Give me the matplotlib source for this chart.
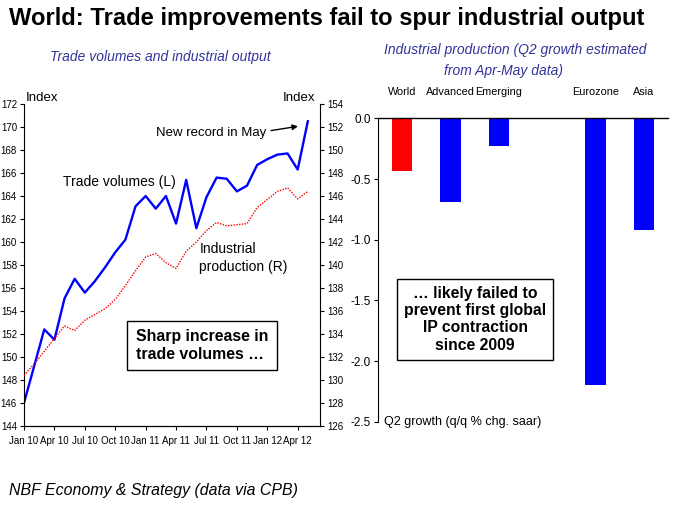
import matplotlib
matplotlib.use("Agg")
import matplotlib.pyplot as plt
import numpy as np

# Datos: índices mensuales (Jan 2010 - May 2012)
trade_volumes = [146.0, 149.2, 152.4, 151.5, 155.1, 156.8, 155.6, 156.6, 157.8, 159.1,
                 160.2, 163.1, 164.0, 162.9, 164.0, 161.6, 165.4, 161.2, 163.9, 165.6,
                 165.5, 164.4, 164.9, 166.7, 167.2, 167.6, 167.7, 166.3, 170.5]
industrial_prod = [130.4, 131.4, 132.5, 133.6, 134.7, 134.3, 135.2, 135.7, 136.2, 137.0,
                   138.2, 139.5, 140.7, 141.0, 140.2, 139.7, 141.2, 142.0, 143.0, 143.7,
                   143.4, 143.5, 143.6, 145.0, 145.7, 146.4, 146.7, 145.75, 146.4]
meses_etiquetas = ['Jan 10', 'Apr 10', 'Jul 10', 'Oct 10', 'Jan 11', 'Apr 11',
                   'Jul 11', 'Oct 11', 'Jan 12', 'Apr 12']

# Datos: crecimiento IP Q2 (q/q % chg. saar)
regiones = ['World', 'Advanced', 'Emerging', '', 'Eurozone', 'Asia']
crecimiento_q2 = [-0.43, -0.69, -0.225, np.nan, -2.20, -0.92]
colores_barras = ['#ff0000', '#0000ff', '#0000ff', '#0000ff', '#0000ff', '#0000ff']

W, H = 675, 507
plt.rcParams['font.family'] = ['Liberation Sans', 'DejaVu Sans']
SUB_COLOR = '#33339a'


def px(x, y):
    return x / W, 1 - y / H


fig = plt.figure(figsize=(6.75, 5.07), dpi=100)

# Títulos
fig.text(*px(9, 18), 'World: Trade improvements fail to spur industrial output',
         fontsize=17.1, fontweight='bold', va='center', ha='left')
fig.text(*px(160, 57), 'Trade volumes and industrial output', fontsize=10,
         style='italic', color=SUB_COLOR, ha='center', va='center')
fig.text(*px(515, 50), 'Industrial production (Q2 growth estimated',
         fontsize=10, style='italic', color=SUB_COLOR, ha='center', va='center')
fig.text(*px(504, 71), 'from Apr-May data)',
         fontsize=10, style='italic', color=SUB_COLOR, ha='center', va='center')
fig.text(*px(9, 491), 'NBF Economy & Strategy (data via CPB)', fontsize=11.4,
         style='italic', ha='left', va='center')

# ---- Gráfico izquierdo ----
ax = fig.add_axes([24 / W, 1 - 426 / H, 296 / W, 322 / H])
meses = np.arange(len(trade_volumes))
ax.plot(meses, trade_volumes, color='#0000ff', lw=1.7)
ax.set_xlim(0, 29.2)
ax.set_ylim(144, 172)
ax.set_yticks(np.arange(144, 173, 2))
ax.set_xticks(np.arange(0, 3 * len(meses_etiquetas), 3))
ax.set_xticklabels(meses_etiquetas)
ax.spines['top'].set_visible(False)
ax.spines['right'].set_visible(False)
ax.tick_params(direction='out', length=3, width=0.8, labelsize=7, pad=2)
ax.tick_params(axis='x', pad=4)

ax2 = ax.twinx()
ax2.plot(meses, industrial_prod, color='#ff0000', lw=1.0, linestyle=(0, (1, 1)))
ax2.set_ylim(126, 154)
ax2.set_yticks(np.arange(126, 155, 2))
ax2.spines['top'].set_visible(False)
ax2.spines['left'].set_visible(False)
ax2.tick_params(direction='out', length=3, width=0.8, labelsize=7, pad=2)

fig.text(*px(26, 98), 'Index', fontsize=9.5, ha='left', va='center')
fig.text(*px(315, 98), 'Index', fontsize=9.5, ha='right', va='center')

ax.text(23.9, 169.5, 'New record in May', fontsize=9.5, ha='right', va='center')
ax.annotate('', xy=(27.3, 170.1), xytext=(24.1, 169.65),
            arrowprops=dict(arrowstyle='-|>', color='black', lw=1.0,
                            mutation_scale=8))
ax.text(3.85, 165.2, 'Trade volumes (L)', fontsize=10, ha='left', va='center')
ax.text(17.3, 158.6, 'Industrial\nproduction (R)', fontsize=10, ha='left',
        va='center', linespacing=1.35)
ax.text(11.0, 151.0, 'Sharp increase in\ntrade volumes …', fontsize=11.4,
        fontweight='bold', ha='left', va='center', linespacing=1.2,
        bbox=dict(boxstyle='square,pad=0.55', fc='white', ec='black', lw=1.0))

# ---- Gráfico derecho ----
bx = fig.add_axes([378 / W, 1 - 421.8 / H, 290 / W, 303.5 / H])
pos = np.arange(len(regiones))
bx.bar(pos, crecimiento_q2, width=0.42, color=colores_barras)
bx.set_xlim(-0.5, 5.5)
bx.set_ylim(-2.5, 0)
bx.set_yticks(np.arange(-2.5, 0.01, 0.5))
bx.set_yticklabels([f'{v:.1f}' for v in np.arange(-2.5, 0.01, 0.5)])
bx.xaxis.tick_top()
bx.set_xticks(pos)
bx.set_xticklabels(regiones)
bx.tick_params(axis='x', length=0, pad=15, labelsize=7.8)
bx.tick_params(axis='y', direction='out', length=3, width=0.8, labelsize=8.5, pad=2)
bx.spines['bottom'].set_visible(False)
bx.spines['right'].set_visible(False)
bx.spines['top'].set_linewidth(1.0)

bx.text(0.02, -2.5, 'Q2 growth (q/q % chg. saar)', fontsize=9, ha='left',
        va='center', transform=bx.get_yaxis_transform())
bx.text(1.507, -1.655, '… likely failed to\nprevent first global\nIP contraction\nsince 2009',
        fontsize=11.3, fontweight='bold', ha='center', va='center', linespacing=1.2,
        bbox=dict(boxstyle='square,pad=0.45', fc='white', ec='black', lw=1.0))

fig.savefig('out.png', dpi=100)
